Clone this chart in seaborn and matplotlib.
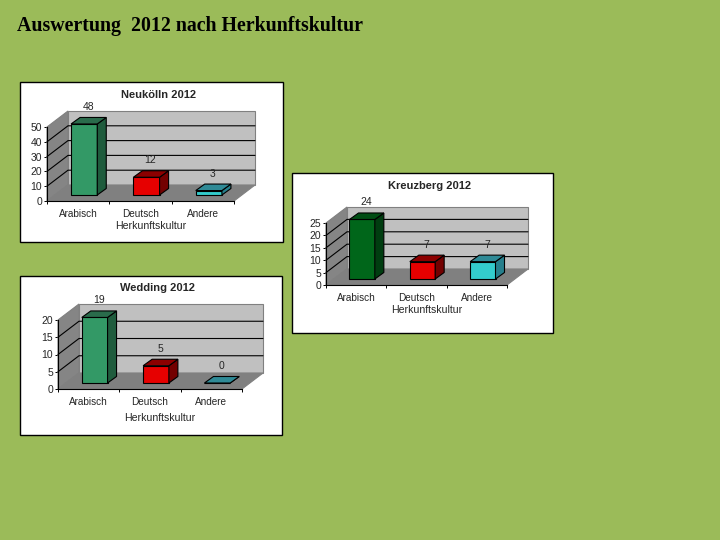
import matplotlib
matplotlib.use('Agg')
import matplotlib.pyplot as plt
import seaborn as sns
from matplotlib.patches import Polygon, Rectangle

# values
categories = ['Arabisch', 'Deutsch', 'Andere']
neukoelln = [48, 12, 3]
wedding = [19, 5, 0]
kreuzberg = [24, 7, 7]
neukoelln_ticks = [0, 10, 20, 30, 40, 50]
wedding_ticks = [0, 5, 10, 15, 20]
kreuzberg_ticks = [0, 5, 10, 15, 20, 25]

W, H = 720, 540
BG = '#9bbb59'

# (front, side, top) colour of each bar
GREEN = ('#339966', '#1f5c3d', '#2a6b4b')
DARK_GREEN = ('#00661a', '#003d10', '#004d14')
RED = ('#e60000', '#730000', '#8c0000')
CYAN = ('#33cccc', '#267f8c', '#2f8a96')

sns.set_style('white')
plt.rcParams['font.family'] = ['Liberation Sans', 'DejaVu Sans']
plt.rcParams['font.size'] = 7

fig = plt.figure(figsize=(W / 100, H / 100), dpi=100, facecolor=BG)


def fx(x):
    return x / W


def fy(y):
    return 1 - y / H


def draw_panel(title, values, ticks, colors, frame, front, xlabel_pos, title_pos):
    """Draw one framed pseudo 3D bar chart, layout given in image pixels."""
    # white box behind the chart
    left, top, right, bottom = frame
    fig.add_artist(Rectangle((fx(left), fy(bottom)), (right - left) / W, (bottom - top) / H,
                             transform=fig.transFigure, facecolor='white', edgecolor='black',
                             linewidth=1, zorder=-1))

    x0, y_top, x1, y0 = front
    ax = fig.add_axes([fx(x0), fy(y0), (x1 - x0) / W, (y0 - y_top) / H])
    ax.patch.set_alpha(0)

    sns.barplot(x=categories, y=values, hue=categories, palette=[c[0] for c in colors],
                saturation=1, width=0.42, edgecolor='black', linewidth=0.8, legend=False, ax=ax)

    ymax = ticks[-1]
    ax.set_xlim(-0.5, 2.5)
    ax.set_ylim(0, ymax)

    # pixels to data units
    ux = 3 / (x1 - x0)
    uy = ymax / (y0 - y_top)
    wall_dx, wall_dy = 21 * ux, 16 * uy
    bar_x, bar_y = 6 * ux, 6 * uy
    side_dx, side_dy = 9 * ux, 6.5 * uy

    # walls and floor
    back = Polygon([(-0.5 + wall_dx, wall_dy), (2.5 + wall_dx, wall_dy),
                    (2.5 + wall_dx, ymax + wall_dy), (-0.5 + wall_dx, ymax + wall_dy)],
                   facecolor='#c0c0c0', edgecolor='#808080', linewidth=0.8, zorder=1, clip_on=False)
    wall = Polygon([(-0.5, 0), (-0.5 + wall_dx, wall_dy), (-0.5 + wall_dx, ymax + wall_dy), (-0.5, ymax)],
                   facecolor='#858585', edgecolor='#808080', linewidth=0.8, zorder=1, clip_on=False)
    floor = Polygon([(-0.5, 0), (2.5, 0), (2.5 + wall_dx, wall_dy), (-0.5 + wall_dx, wall_dy)],
                    facecolor='#808080', edgecolor='#808080', linewidth=0.8, zorder=1, clip_on=False)
    for poly in (back, wall, floor):
        ax.add_patch(poly)

    # gridlines run along the side wall and the back wall, not on the top edge
    for t in ticks[1:-1]:
        ax.plot([-0.5, -0.5 + wall_dx, 2.5 + wall_dx], [t, t + wall_dy, t + wall_dy],
                color='black', linewidth=0.8, zorder=1.5, clip_on=False)

    # move the bars off the front plane and give them a side and a top
    for patch, val, cols in zip(ax.patches[:3], values, colors):
        patch.set_x(patch.get_x() + bar_x)
        patch.set_y(bar_y)
        patch.set_zorder(3)
        patch.set_clip_on(False)
        xa = patch.get_x()
        xb = xa + patch.get_width()
        yb = bar_y + val
        side = Polygon([(xb, bar_y), (xb + side_dx, bar_y + side_dy), (xb + side_dx, yb + side_dy), (xb, yb)],
                       facecolor=cols[1], edgecolor='black', linewidth=0.8, zorder=3, clip_on=False)
        lid = Polygon([(xa, yb), (xb, yb), (xb + side_dx, yb + side_dy), (xa + side_dx, yb + side_dy)],
                      facecolor=cols[2], edgecolor='black', linewidth=0.8, zorder=3, clip_on=False)
        ax.add_patch(side)
        ax.add_patch(lid)
        ax.annotate(str(val), xy=((xa + xb) / 2, yb), xytext=(4, 17), textcoords='offset pixels',
                    ha='center', va='center', fontsize=7.5, zorder=4, annotation_clip=False)

    # axes
    sns.despine(ax=ax, top=True, right=True)
    for name in ('left', 'bottom'):
        ax.spines[name].set_color('black')
        ax.spines[name].set_linewidth(0.8)
        ax.spines[name].set_zorder(2)
    ax.set_yticks(ticks)
    ax.set_xticks([-0.5, 0.5, 1.5, 2.5], labels=[])
    ax.set_xticks([0, 1, 2], labels=categories, minor=True)
    ax.set_xlabel('')
    ax.set_ylabel('')
    ax.tick_params(axis='y', left=True, length=2.5, width=0.7, pad=1, labelsize=7.5, color='black')
    ax.tick_params(axis='x', which='major', bottom=True, length=2, width=0.7, color='black')
    ax.tick_params(axis='x', which='minor', bottom=False, length=0, pad=6, labelsize=7.2)

    fig.text(fx(xlabel_pos[0]), fy(xlabel_pos[1]), 'Herkunftskultur', ha='center', va='center', fontsize=7.6)
    fig.text(fx(title_pos[0]), fy(title_pos[1]), title, ha='center', va='center', fontsize=8, fontweight='bold')


draw_panel('Neukölln 2012', neukoelln, neukoelln_ticks, (GREEN, RED, CYAN),
           frame=(19.5, 82.5, 282.5, 241.5), front=(47, 127, 234, 201),
           xlabel_pos=(151, 226), title_pos=(159, 95))
draw_panel('Wedding 2012', wedding, wedding_ticks, (GREEN, RED, CYAN),
           frame=(19.5, 275.5, 281.5, 434.5), front=(58, 320, 242, 389),
           xlabel_pos=(160, 418), title_pos=(158, 288))
draw_panel('Kreuzberg 2012', kreuzberg, kreuzberg_ticks, (DARK_GREEN, RED, CYAN),
           frame=(291.5, 173.5, 552.5, 332.5), front=(326, 223, 507, 285),
           xlabel_pos=(427, 310), title_pos=(430, 186))

fig.text(fx(17), fy(26), 'Auswertung  2012 nach Herkunftskultur', ha='left', va='center',
         fontsize=14.3, fontweight='bold', family='Liberation Serif', color='black')

fig.savefig('out.png', dpi=100, facecolor=BG)
